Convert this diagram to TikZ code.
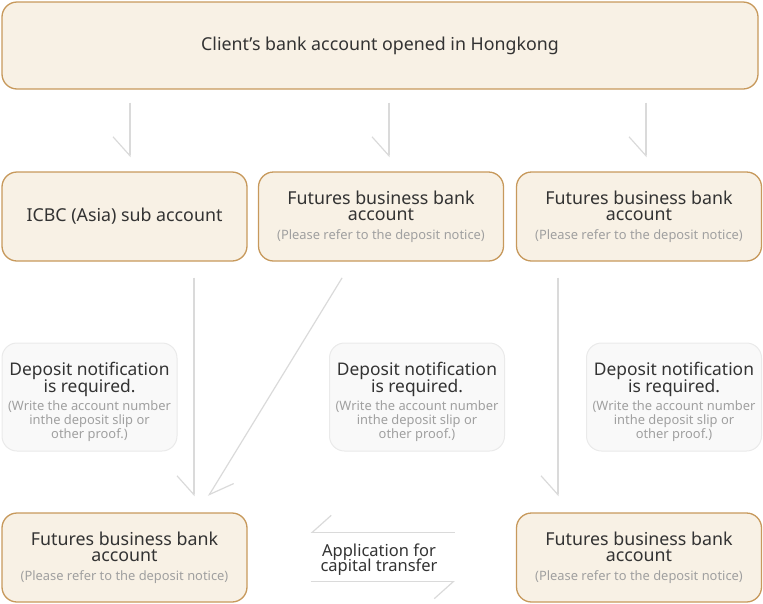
\documentclass[tikz,border=0pt]{standalone}
\usepackage{fontspec}
\setmainfont{Noto Sans}
\usepackage{xcolor}
\usetikzlibrary{arrows.meta}

\definecolor{boxfill}{RGB}{248,241,229}
\definecolor{boxline}{RGB}{199,153,92}
\definecolor{notefill}{RGB}{249,249,249}
\definecolor{noteline}{RGB}{234,234,234}
\definecolor{ink}{RGB}{51,51,51}
\definecolor{hint}{RGB}{160,160,160}
\definecolor{flow}{RGB}{218,218,218}

\newcommand{\hinttext}[1]{{\color{hint}\fontsize{12.9}{14}\selectfont #1}}

\begin{document}
\lineskiplimit=-20pt
\begin{tikzpicture}[x=1pt,y=-1pt,thin]

                \tikzset{acct/.style={draw=boxline, fill=boxfill, line width=1.3pt, rounded corners=15pt,
                                      minimum width=245pt, minimum height=89pt, align=center, text=ink,
                                      font=\fontsize{17.8}{16.5}\selectfont, inner sep=0pt},
                         note/.style={draw=noteline, fill=notefill, line width=1pt, rounded corners=15pt,
                                      minimum width=175pt, minimum height=108pt, align=center, text=ink,
                                      font=\fontsize{17.4}{16.5}\selectfont, inner sep=0pt},
                         flowline/.style={draw=flow, line width=1.2pt,
                                      -{Straight Barb[harpoon,swap,length=19pt,width=34pt,line width=1.2pt]}},
                         flowleft/.style={draw=flow, line width=1.2pt,
                                      -{Straight Barb[harpoon,length=22pt,width=30pt,line width=1.2pt]}}}

                \useasboundingbox (0,0) rectangle (763,603);

                \node[acct, minimum width=756pt, minimum height=87pt] (T) at (380,45.5)
                    {Client’s bank account opened in Hongkong};

                \node[acct] (A) at (124.5,216.5) {ICBC (Asia) sub account};
                \node[acct] (B) at (381,216.5) {Futures business bank\\account\\[2pt]
                    \hinttext{(Please refer to the deposit notice)}};
                \node[acct] (C) at (639,216.5) {Futures business bank\\account\\[2pt]
                    \hinttext{(Please refer to the deposit notice)}};

                \node[note] (N1) at (89.5,397) {\rule{0pt}{24pt}Deposit notification\\is required.\\[2pt]
                    \hinttext{(Write the account number}\\[-2.5pt]\hinttext{inthe deposit slip or}\\[-2.5pt]\hinttext{other proof.)}};
                \node[note] (N2) at (417,397) {\rule{0pt}{24pt}Deposit notification\\is required.\\[2pt]
                    \hinttext{(Write the account number}\\[-2.5pt]\hinttext{inthe deposit slip or}\\[-2.5pt]\hinttext{other proof.)}};
                \node[note] (N3) at (674,397) {\rule{0pt}{24pt}Deposit notification\\is required.\\[2pt]
                    \hinttext{(Write the account number}\\[-2.5pt]\hinttext{inthe deposit slip or}\\[-2.5pt]\hinttext{other proof.)}};

                \node[acct] (D) at (124.5,557.5) {Futures business bank\\account\\[2pt]
                    \hinttext{(Please refer to the deposit notice)}};
                \node[acct] (E) at (639,557.5) {Futures business bank\\account\\[2pt]
                    \hinttext{(Please refer to the deposit notice)}};

                \node[align=center, text=ink, font=\fontsize{16.5}{15}\selectfont, inner sep=0pt] (M) at (379,559.5)
                    {Application for\\capital transfer};

                \draw[flowline, shorten <=13pt, shorten >=14pt] ([xshift=5.5pt]A.north |- T.south) -- ([xshift=5.5pt]A.north);
                \draw[flowline, shorten <=13pt, shorten >=14pt] ([xshift=8pt]B.north |- T.south) -- ([xshift=8pt]B.north);
                \draw[flowline, shorten <=13pt, shorten >=14pt] ([xshift=7pt]C.north |- T.south) -- ([xshift=7pt]C.north);

                \draw[flowline, shorten <=16pt, shorten >=16pt] ([xshift=69.5pt]A.south) -- ([xshift=69.5pt]D.north);
                \draw[flowleft, shorten <=19pt, shorten >=19pt] ([xshift=-29pt]B.south) -- ([xshift=74pt]D.north);
                \draw[flowline, shorten <=16pt, shorten >=16pt] ([xshift=-81pt]C.south) -- ([xshift=-81pt]E.north);

                \draw[flowline, shorten <=61pt, shorten >=63pt] ([yshift=-20pt]E.north west) -- ([yshift=-20pt]D.north east);
                \draw[flowline, shorten <=63pt, shorten >=61pt] ([yshift=21pt]D.south east) -- ([yshift=21pt]E.south west);
            \end{tikzpicture}
\end{document}
